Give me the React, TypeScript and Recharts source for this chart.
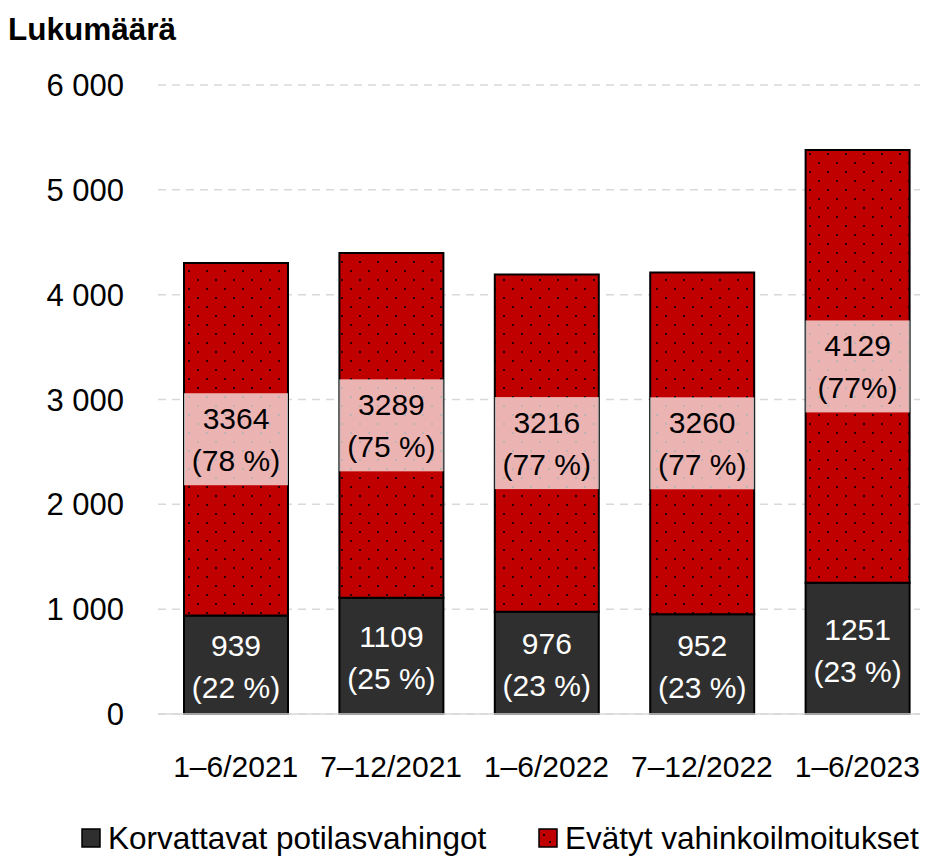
import React from "react";
import {
  Bar,
  BarChart,
  CartesianGrid,
  LabelList,
  Legend,
  XAxis,
  YAxis,
} from "recharts";

const periods = ["1–6/2021", "7–12/2021", "1–6/2022", "7–12/2022", "1–6/2023"];
const korvattavat = [939, 1109, 976, 952, 1251];
const evatyt = [3364, 3289, 3216, 3260, 4129];
const korvattavatPct = ["22 %", "25 %", "23 %", "23 %", "23 %"];
const evatytPct = ["78 %", "75 %", "77 %", "77 %", "77%"];
const yTicks = [0, 1000, 2000, 3000, 4000, 5000, 6000];

const data = periods.map((p, i) => ({
  period: p,
  korvattavat: korvattavat[i],
  evatyt: evatyt[i],
}));

const FONT = '"Liberation Sans", Arial, sans-serif';
const DARK = "#2f2f2f";
const RED = "#c00000";

const fmt = (v: number) => String(v).replace(/\B(?=(\d{3})+(?!\d))/g, " ");

function DarkLabel(props: any) {
  const { x, y, width, height, index } = props;
  const cx = x + width / 2;
  const cy = y + height / 2 + 2;
  return (
    <text textAnchor="middle" fill="#fff" fontSize={30} fontFamily={FONT}>
      <tspan x={cx} y={cy - 21} dy="0.35em">
        {korvattavat[index]}
      </tspan>
      <tspan x={cx} y={cy + 21} dy="0.35em">
        ({korvattavatPct[index]})
      </tspan>
    </text>
  );
}

function RedLabel(props: any) {
  const { x, y, width, height, index } = props;
  const cx = x + width / 2;
  const cy = y + height / 2;
  return (
    <g>
      <rect
        x={x}
        y={cy - 46}
        width={width}
        height={92}
        fill="#fff"
        fillOpacity={0.7}
      />
      <text textAnchor="middle" fill="#000" fontSize={30} fontFamily={FONT}>
        <tspan x={cx} y={cy - 21} dy="0.35em">
          {evatyt[index]}
        </tspan>
        <tspan x={cx} y={cy + 21} dy="0.35em">
          ({evatytPct[index]})
        </tspan>
      </text>
    </g>
  );
}

function LegendBox() {
  const item = (label: string, fill: string, dotted: boolean, w: number) => (
    <div style={{ display: "flex", alignItems: "center", width: w }}>
      <svg width={20} height={20} style={{ marginRight: 7, flex: "none" }}>
        <rect x={1} y={1} width={18} height={18} fill={fill} stroke="#000" strokeWidth={1.5} />
        {dotted && (
          <>
            <rect x={5} y={6} width={2} height={2} fill="#200" />
            <rect x={11} y={13} width={2} height={2} fill="#200" />
          </>
        )}
      </svg>
      <span style={{ whiteSpace: "nowrap" }}>{label}</span>
    </div>
  );
  return (
    <div
      style={{
        display: "flex",
        fontFamily: FONT,
        fontSize: 31.5,
        color: "#000",
        paddingLeft: 81,
        lineHeight: "34px",
      }}
    >
      {item("Korvattavat potilasvahingot", DARK, false, 457)}
      {item("Evätyt vahinkoilmoitukset", RED, true, 380)}
    </div>
  );
}

export default function App() {
  return (
    <div
      style={{
        position: "absolute",
        left: 0,
        top: 0,
        width: 925,
        height: 859,
        background: "#fff",
        overflow: "hidden",
      }}
    >
      <div
        style={{
          position: "absolute",
          left: 8,
          top: 12,
          fontFamily: FONT,
          fontWeight: "bold",
          fontSize: 31.5,
          lineHeight: "34px",
          color: "#000",
        }}
      >
        Lukumäärä
      </div>
      <BarChart
        width={925}
        height={859}
        data={data}
        margin={{ top: 85, right: 5, left: 0, bottom: 85 }}
        barSize={104}
      >
        <defs>
          <pattern
            id="dots"
            patternUnits="userSpaceOnUse"
            x={8}
            y={0}
            width={18}
            height={18}
          >
            <rect width={18} height={18} fill={RED} />
            <rect x={0} y={0} width={2} height={2} fill="#2a0000" />
            <rect x={9} y={9} width={2} height={2} fill="#2a0000" />
          </pattern>
        </defs>
        <CartesianGrid
          vertical={false}
          stroke="#d9d9d9"
          strokeDasharray="8 6"
          strokeWidth={1.5}
        />
        <XAxis
          dataKey="period"
          height={60}
          padding={{ left: 0, right: -15 }}
          tickLine={false}
          tickSize={0}
          tickMargin={42}
          axisLine={{ stroke: "#d9d9d9", strokeWidth: 1.5 }}
          tick={{ fill: "#000", fontSize: 30, fontFamily: FONT }}
          interval={0}
        />
        <YAxis
          width={158}
          domain={[0, 6000]}
          ticks={yTicks}
          tickFormatter={fmt}
          tickLine={false}
          axisLine={false}
          tickSize={0}
          tickMargin={34}
          tick={{ fill: "#000", fontSize: 31, fontFamily: FONT }}
        />
        <Legend
          layout="horizontal"
          verticalAlign="middle"
          align="center"
          wrapperStyle={{ top: 821, left: 0, width: 925 }}
          content={() => <LegendBox />}
        />
        <Bar
          dataKey="korvattavat"
          stackId="a"
          fill={DARK}
          stroke="#000"
          strokeWidth={2}
          isAnimationActive={false}
        >
          <LabelList dataKey="korvattavat" content={DarkLabel} />
        </Bar>
        <Bar
          dataKey="evatyt"
          stackId="a"
          fill="url(#dots)"
          stroke="#000"
          strokeWidth={2}
          isAnimationActive={false}
        >
          <LabelList dataKey="evatyt" content={RedLabel} />
        </Bar>
      </BarChart>
    </div>
  );
}
